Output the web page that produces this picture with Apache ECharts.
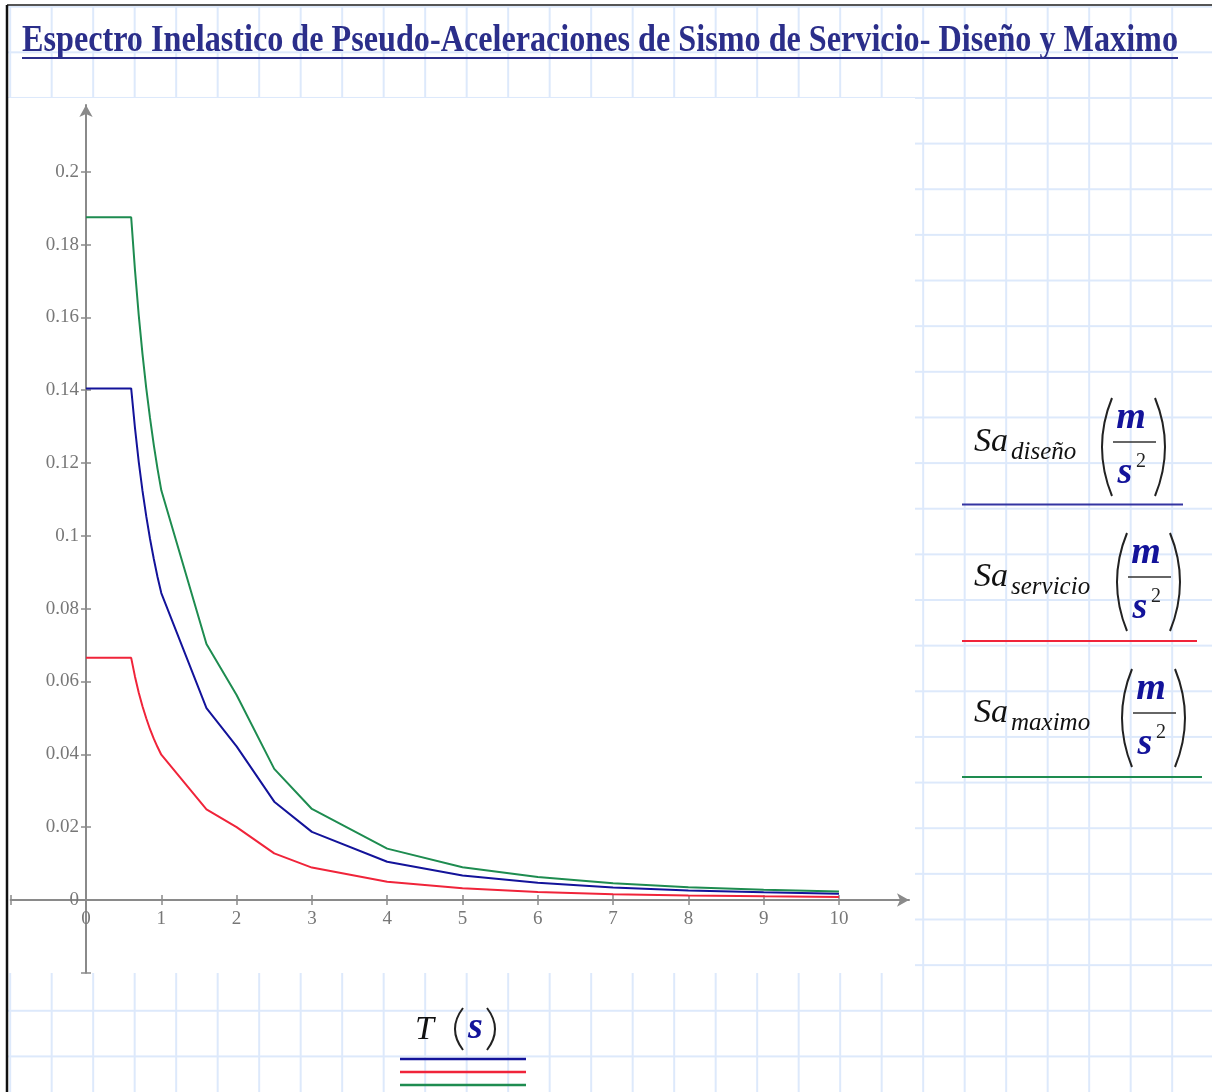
<!DOCTYPE html>
<html>
<head>
<meta charset="utf-8">
<title>Espectro Inelastico de Pseudo-Aceleraciones</title>
<script src="https://cdn.jsdelivr.net/npm/echarts@6/dist/echarts.min.js"></script>
<style>
  html, body { margin: 0; padding: 0; background: #fff; }
  #chart {
    width: 1212px;
    height: 1092px;
    background-color: #fff;
    /* hoja cuadriculada de fondo */
    background-image:
      linear-gradient(to right, #dde9fb 2px, transparent 2px),
      linear-gradient(to bottom, #dde9fb 2px, transparent 2px);
    background-size: 41.5px 100%, 100% 45.65px;
    background-position: 9.2px 0, 0 5.7px;
  }
</style>
</head>
<body>
<div id="chart"></div>
<script>
// periodos T (s)
const periods = [0, 0.6, 0.65, 0.7, 0.75, 0.8, 0.85, 0.9, 0.95, 1, 1.6, 2, 2.5, 3, 4, 5, 6, 7, 8, 9, 10];

// Sa (m/s2)
const saDiseno = [0.1405, 0.1405, 0.1297, 0.1204, 0.1124, 0.1054, 0.0992, 0.0937, 0.0887, 0.0843,
  0.0527, 0.0422, 0.0270, 0.0187, 0.0105, 0.0067, 0.0047, 0.0034, 0.0026, 0.0021, 0.0017];
const saServicio = [0.0665, 0.0665, 0.0614, 0.0570, 0.0532, 0.0499, 0.0469, 0.0443, 0.0420, 0.0399,
  0.0249, 0.0200, 0.0128, 0.0089, 0.0050, 0.0032, 0.0022, 0.0016, 0.00125, 0.00099, 0.0008];
const saMaximo = [0.1875, 0.1875, 0.1731, 0.1607, 0.1500, 0.1406, 0.1324, 0.1250, 0.1184, 0.1125,
  0.0703, 0.0563, 0.0360, 0.0250, 0.0141, 0.0090, 0.0063, 0.0046, 0.0035, 0.0028, 0.0023];

// marcas de los ejes
const xTickValues = [-1, 0, 1, 2, 3, 4, 5, 6, 7, 8, 9, 10];
const xLabelValues = [0, 1, 2, 3, 4, 5, 6, 7, 8, 9, 10];
const yTickValues = [-0.02, 0, 0.02, 0.04, 0.06, 0.08, 0.1, 0.12, 0.14, 0.16, 0.18, 0.2];
const yLabelValues = [0, 0.02, 0.04, 0.06, 0.08, 0.1, 0.12, 0.14, 0.16, 0.18, 0.2];

const titleText = "Espectro Inelastico de Pseudo-Aceleraciones de Sismo de Servicio- Diseño y Maximo";

const BLUE = "#13139a";
const RED = "#f0243a";
const GREEN = "#1e8c50";
const AXIS = "#8a8a8a";
const SERIF = '"Liberation Serif", "DejaVu Serif", serif';

// rejilla: T de -1 a 10.93, Sa de -0.02 a 0.2183
const GRID = { left: 10.7, top: 105.1, width: 898.3, height: 867.7 };
const X_SHIFT = -72.83; // eje x sobre Sa = 0
const Y_SHIFT = -75.3;  // eje y sobre T = 0

function pairs(values) {
  return periods.map((t, i) => [t, values[i]]);
}

// medir el titulo para ajustarlo al ancho de la captura
const mctx = document.createElement("canvas").getContext("2d");
mctx.font = "bold 38px " + SERIF;
const titleW = mctx.measureText(titleText).width;

// texto posicionado por su linea base
function txt(text, x, baseY, font, size, fill, align) {
  return {
    type: "text",
    x: x,
    y: baseY - 0.305 * size,
    z: 50,
    style: {
      text: text, x: 0, y: 0,
      font: font,
      fill: fill,
      align: align || "left", verticalAlign: "middle",
      textAlign: align || "left", textVerticalAlign: "middle"
    }
  };
}

function paren(x1, top, bot, cpx) {
  return {
    type: "bezierCurve",
    z: 50,
    shape: { x1: x1, y1: top, x2: x1, y2: bot, cpx1: cpx, cpy1: (top + bot) / 2 },
    style: { stroke: "#222", lineWidth: 2, fill: null }
  };
}

function hline(x1, x2, y, color, w) {
  return {
    type: "line",
    z: 50,
    shape: { x1: x1, y1: y, x2: x2, y2: y },
    style: { stroke: color, lineWidth: w }
  };
}

// entrada de leyenda: Sa_sub (m/s^2) con linea debajo
function legendEntry(sub, baseY, parL, lineY, lineX2, color) {
  const top = baseY - 54;
  const bot = top + 98;
  return [
    txt("Sa", 974, baseY, "italic 34px " + SERIF, 34, "#111"),
    txt(sub, 1011, baseY + 8, "italic 25px " + SERIF, 25, "#111"),
    paren(parL + 12, top, bot, parL - 8),
    paren(parL + 55, top, bot, parL + 75),
    txt("m", parL + 31, top + 32, "italic bold 38px " + SERIF, 38, BLUE, "center"),
    hline(parL + 13, parL + 56, top + 44, "#333", 1.5),
    txt("s", parL + 25, top + 87, "italic bold 38px " + SERIF, 38, BLUE, "center"),
    txt("2", parL + 41, top + 70, "20px " + SERIF, 20, "#222", "center"),
    hline(962, lineX2, lineY, color, 2)
  ];
}

const graphics = [
  // zona blanca del grafico
  { type: "rect", z: -100, shape: { x: 8, y: 98, width: 907, height: 875 }, style: { fill: "#fff" } },
  { type: "rect", z: -100, shape: { x: 0, y: 0, width: 1212, height: 5 }, style: { fill: "#fff" } },
  { type: "rect", z: -100, shape: { x: 0, y: 0, width: 6, height: 1092 }, style: { fill: "#fff" } },
  // bordes
  hline(7, 1212, 5, "#555", 2),
  { type: "line", z: 50, shape: { x1: 7, y1: 5, x2: 7, y2: 1092 }, style: { stroke: "#111", lineWidth: 2.5 } },
  // titulo
  {
    type: "text", x: 22, y: 41, scaleX: 1156 / titleW, z: 50,
    style: {
      text: titleText, x: 0, y: 0, font: "bold 38px " + SERIF, fill: "#2b2e8a",
      align: "left", verticalAlign: "middle", textAlign: "left", textVerticalAlign: "middle"
    }
  },
  hline(22, 1178, 58, "#2b2e8a", 2),
  // nombre eje x: T (s)
  txt("T", 415, 1040, "italic 34px " + SERIF, 34, "#111"),
  paren(463, 1008, 1050, 447),
  txt("s", 468, 1040, "italic bold 38px " + SERIF, 38, BLUE),
  paren(487, 1008, 1050, 503),
  hline(400, 526, 1059, BLUE, 2.5),
  hline(400, 526, 1072, RED, 2.5),
  hline(400, 526, 1085, GREEN, 2.5)
]
  .concat(legendEntry("diseño", 452, 1100, 504.5, 1183, "#3535a2"))
  .concat(legendEntry("servicio", 587, 1115, 641, 1197, RED))
  .concat(legendEntry("maximo", 723, 1120, 777, 1202, GREEN));

const labelStyle = { color: "#777", fontFamily: SERIF, fontSize: 19 };

function xAxisDef(inside) {
  return {
    type: "value", min: -1, max: 10.93, interval: 1, position: "bottom", offset: X_SHIFT,
    axisLine: inside
      ? { onZero: false, lineStyle: { color: AXIS, width: 2, opacity: 0 } }
      : { onZero: false, symbol: ["none", "arrow"], symbolSize: [10, 12], lineStyle: { color: AXIS, width: 2 } },
    axisTick: { show: true, inside: inside, length: 5, customValues: xTickValues, lineStyle: { color: AXIS, width: 1.5 } },
    axisLabel: inside ? { show: false } : Object.assign({ margin: 10, customValues: xLabelValues }, labelStyle),
    splitLine: { show: false }
  };
}

function yAxisDef(inside) {
  return {
    type: "value", min: -0.02, max: 0.2183, interval: 0.02, position: "left", offset: Y_SHIFT,
    axisLine: inside
      ? { onZero: false, lineStyle: { color: AXIS, width: 2, opacity: 0 } }
      : { onZero: false, symbol: ["none", "arrow"], symbolSize: [10, 12], lineStyle: { color: AXIS, width: 2 } },
    axisTick: { show: true, inside: inside, length: 5, customValues: yTickValues, lineStyle: { color: AXIS, width: 1.5 } },
    axisLabel: inside ? { show: false } : Object.assign({ margin: 7, customValues: yLabelValues }, labelStyle),
    splitLine: { show: false }
  };
}

const option = {
  animation: false,
  grid: Object.assign({ containLabel: false, outerBoundsMode: "none" }, GRID),
  xAxis: [xAxisDef(false), xAxisDef(true)],
  yAxis: [yAxisDef(false), yAxisDef(true)],
  series: [
    {
      name: "Sa diseño", type: "line", data: pairs(saDiseno),
      symbol: "none", lineStyle: { color: BLUE, width: 2 }, itemStyle: { color: BLUE }
    },
    {
      name: "Sa servicio", type: "line", data: pairs(saServicio),
      symbol: "none", lineStyle: { color: RED, width: 2 }, itemStyle: { color: RED }
    },
    {
      name: "Sa maximo", type: "line", data: pairs(saMaximo),
      symbol: "none", lineStyle: { color: GREEN, width: 2 }, itemStyle: { color: GREEN }
    }
  ],
  graphic: graphics
};

const chart = echarts.init(document.getElementById("chart"), null, { renderer: "canvas" });
chart.setOption(option);
window.addEventListener("resize", () => chart.resize());
</script>
</body>
</html>
